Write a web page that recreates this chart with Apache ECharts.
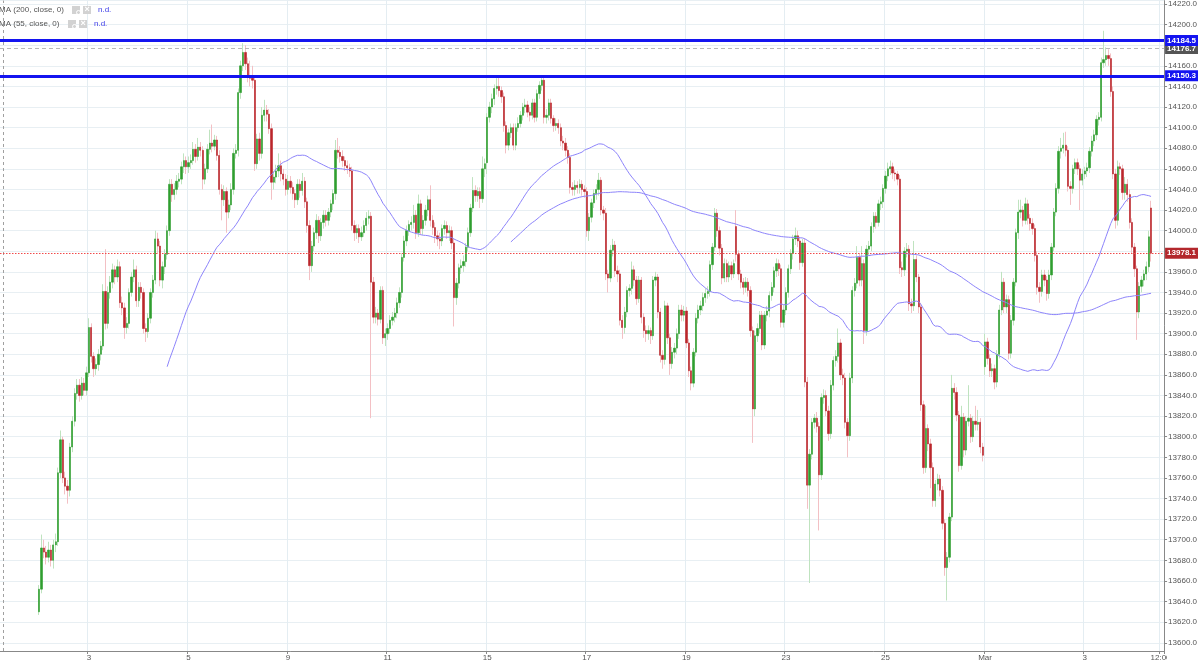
<!DOCTYPE html>
<html><head><meta charset="utf-8">
<script src="https://cdn.jsdelivr.net/npm/echarts/dist/echarts.min.js"></script>
<style>html,body{margin:0;padding:0;background:#fff}#c{width:1200px;height:662px}</style>
</head><body><div id="c"></div><script>
// ---- data ----
const dayNames = ['Feb 2','Feb 3','Feb 4','Feb 5','Feb 8','Feb 9','Feb 10','Feb 11','Feb 12','Feb 15','Feb 16','Feb 17','Feb 18','Feb 19','Feb 22','Feb 23','Feb 24','Feb 25','Feb 26','Mar 1','Mar 2','Mar 3','Mar 4'];
const tickCats = ['Feb 3 01:00','Feb 5 01:00','Feb 9 01:00','Feb 11 01:00','Feb 15 01:00','Feb 17 01:00','Feb 19 01:00','Feb 23 01:00','Feb 25 01:00','Mar 1 01:00','Mar 3 01:00','Mar 4 12:00'];
const tickTexts = ['3','5','9','11','15','17','19','23','25','Mar','3','12:00'];
const yTicks = {min: 13592, max: 14223.3};
// [open, close, low, high], hourly
const candles = [
[13630,13652,13627,13656],[13652,13692,13648,13705],[13692,13688,13682,13700],[13688,13683,13676,13694],[13683,13690,13678,13698],[13690,13680,13674,13695],[13680,13695,13672,13700],[13695,13698,13688,13706],[13698,13765,13694,13770],[13765,13797,13760,13806],[13797,13760,13755,13800],[13760,13752,13744,13766],[13752,13748,13735,13758],[13748,13790,13742,13794],[13790,13815,13785,13820],[13815,13842,13810,13847],[13842,13850,13836,13856],[13850,13840,13834,13856],[13840,13852,13836,13858],[13852,13845,13840,13857],[13845,13862,13840,13868],
[13862,13906,13858,13915],[13906,13878,13872,13910],[13878,13866,13858,13882],[13866,13870,13860,13876],[13870,13880,13864,13885],[13880,13888,13874,13893],[13888,13941,13884,13948],[13941,13910,13904,13982],[13910,13940,13905,13946],[13940,13950,13934,13956],[13950,13962,13944,13968],[13962,13955,13948,13966],[13955,13965,13950,13972],[13965,13930,13925,13970],[13930,13925,13918,13936],[13925,13906,13895,13930],[13906,13910,13900,13916],[13910,13940,13905,13944],[13940,13955,13936,13960],[13955,13962,13950,13972],[13962,13932,13926,13966],
[13932,13945,13926,13950],[13945,13940,13934,13950],[13940,13905,13900,13944],[13905,13902,13892,13910],[13902,13915,13896,13920],[13915,13940,13910,13944],[13940,13952,13935,13957],[13952,13992,13948,14000],[13992,13985,13978,13998],[13985,13952,13946,13990],[13952,13965,13944,13970],[13965,13977,13958,13982],[13977,14000,13972,14005],[14000,14045,13995,14050],[14045,14035,14028,14050],[14035,14040,14030,14046],[14040,14048,14035,14054],[14048,14050,14042,14056],[14050,14062,14045,14067],[14062,14068,14056,14075],[14068,14062,14055,14072],
[14062,14066,14056,14072],[14066,14068,14060,14074],[14068,14079,14064,14086],[14079,14072,14066,14084],[14072,14081,14068,14090],[14081,14078,14072,14086],[14078,14050,14040,14082],[14050,14060,14045,14065],[14060,14079,14056,14084],[14079,14085,14074,14098],[14085,14082,14076,14103],[14082,14088,14078,14093],[14088,14073,14068,14092],[14073,14040,14035,14078],[14040,14030,14010,14045],[14030,14038,14024,14044],[14038,14018,13998,14042],[14018,14025,14012,14030],[14025,14040,14020,14046],[14040,14075,14035,14080],[14075,14078,14070,14084],
[14078,14134,14072,14138],[14134,14160,14128,14165],[14160,14173,14155,14182],[14173,14162,14156,14180],[14162,14150,14144,14168],[14150,14148,14140,14165],[14148,14146,14138,14160],[14146,14065,14058,14150],[14065,14089,14060,14094],[14089,14075,14068,14095],[14075,14112,14070,14120],[14112,14117,14106,14127],[14117,14113,14106,14122],[14113,14099,14094,14118],[14099,14047,14030,14104],[14047,14052,14040,14058],[14052,14058,14046,14064],[14058,14063,14052,14075],[14063,14055,14048,14068],[14055,14050,14044,14060],[14050,14040,14034,14055],
[14040,14048,14035,14054],[14048,14042,14036,14053],[14042,14036,14030,14047],[14036,14030,14022,14040],[14030,14045,14025,14050],[14045,14039,14032,14050],[14039,14048,14034,14056],[14048,14028,14022,14052],[14028,14005,13998,14032],[14005,13966,13952,14010],[13966,13985,13960,13990],[13985,13998,13980,14003],[13998,14010,13992,14016],[14010,13995,13988,14014],[13995,14008,13990,14012],[14008,14015,14002,14020],[14015,14010,14004,14020],[14010,14018,14005,14022],[14018,14026,14013,14030],[14026,14036,14020,14040],[14036,14078,14030,14088],
[14078,14076,14070,14090],[14076,14072,14066,14082],[14072,14068,14062,14078],[14068,14063,14058,14072],[14063,14061,14055,14068],[14061,14058,14052,14065],[14058,14005,14000,14062],[14005,13998,13990,14010],[13998,14002,13992,14006],[14002,13994,13988,14006],[13994,13998,13990,14004],[13998,14005,13994,14010],[14005,14012,14000,14018],[14012,14014,14006,14020],[14014,13950,13818,14018],[13950,13916,13910,13955],[13916,13920,13910,13926],[13920,13914,13908,13924],[13914,13942,13910,13946],[13942,13896,13890,13946],[13896,13900,13888,13905],
[13900,13905,13894,13910],[13905,13913,13900,13918],[13913,13916,13908,13921],[13916,13920,13911,13925],[13920,13930,13915,13935],[13930,13940,13925,13945],[13940,13974,13935,13978],[13974,13990,13970,13995],[13990,14000,13985,14005],[14000,14006,13995,14010],[14006,14008,14000,14014],[14008,14015,14002,14025],[14015,13998,13992,14020],[13998,14026,13994,14035],[14026,14002,13996,14030],[14002,14010,13996,14015],[14010,14020,14005,14025],[14020,14030,14014,14034],[14030,14010,14004,14044],[14010,14003,13996,14015],[14003,13995,13988,14008],
[13995,13992,13985,14000],[13992,13990,13982,13998],[13990,14002,13985,14006],[14002,14005,13996,14010],[14005,13998,13992,14009],[13998,14000,13990,14005],[14000,13988,13982,14004],[13988,13935,13907,13992],[13935,13949,13928,13954],[13949,13964,13944,13968],[13964,13966,13958,13972],[13966,13970,13960,13976],[13970,13984,13965,13988],[13984,13998,13980,14003],[13998,14022,13994,14026],[14022,14039,14018,14052],[14039,14034,14028,14044],[14034,14038,14028,14042],[14038,14031,14022,14042],[14031,14060,14027,14072],[14060,14065,14052,14070],
[14066,14110,14055,14114],[14110,14120,14105,14125],[14120,14128,14114,14133],[14128,14138,14122,14142],[14138,14140,14132,14148],[14140,14136,14130,14150],[14136,14130,14124,14140],[14130,14102,14096,14134],[14102,14083,14075,14106],[14083,14095,14078,14099],[14095,14100,14090,14104],[14100,14083,14078,14104],[14083,14100,14078,14104],[14100,14104,14096,14110],[14104,14112,14100,14116],[14112,14120,14107,14124],[14120,14122,14114,14128],[14122,14115,14110,14126],[14115,14112,14106,14120],[14112,14124,14108,14128],[14124,14110,14105,14128],
[14110,14133,14106,14137],[14133,14141,14128,14145],[14141,14146,14136,14150],[14146,14110,14104,14150],[14110,14112,14104,14118],[14112,14124,14107,14128],[14124,14109,14104,14128],[14109,14102,14096,14112],[14102,14104,14097,14109],[14104,14100,14094,14108],[14100,14087,14082,14104],[14087,14085,14078,14092],[14085,14078,14072,14090],[14078,14071,14065,14082],[14071,14042,14036,14075],[14042,14040,14034,14047],[14040,14044,14034,14049],[14044,14042,14036,14048],[14042,14045,14036,14050],[14045,14040,14034,14049],[14040,14038,14032,14044],
[14038,14000,13994,14042],[14000,14013,13990,14017],[14013,14027,14008,14031],[14027,14036,14022,14040],[14036,14040,14030,14045],[14040,14049,14034,14056],[14049,14020,14015,14052],[14020,14017,14010,14024],[14017,13958,13952,14022],[13958,13954,13940,13962],[13954,13981,13950,13986],[13981,13986,13975,13992],[13986,13961,13955,13990],[13961,13958,13950,13966],[13958,13913,13908,13962],[13913,13906,13895,13918],[13906,13921,13900,13926],[13921,13942,13916,13946],[13942,13944,13936,13948],[13944,13962,13938,13970],[13962,13952,13946,13966],
[13952,13934,13928,13956],[13934,13952,13930,13956],[13952,13916,13910,13955],[13916,13903,13896,13920],[13903,13900,13892,13908],[13900,13903,13894,13908],[13903,13898,13890,13906],[13898,13952,13894,13956],[13952,13955,13946,13960],[13955,13921,13915,13958],[13921,13879,13872,13925],[13879,13875,13866,13884],[13875,13927,13870,13932],[13927,13896,13890,13930],[13896,13871,13860,13900],[13871,13882,13866,13887],[13882,13886,13876,13891],[13886,13900,13880,13905],[13900,13923,13895,13928],[13923,13918,13912,13928],[13918,13922,13912,13927],
[13922,13891,13886,13926],[13891,13864,13858,13895],[13864,13852,13845,13868],[13852,13882,13848,13886],[13882,13915,13878,13920],[13915,13923,13910,13928],[13923,13927,13918,13932],[13927,13935,13922,13940],[13935,13939,13930,13944],[13939,13941,13934,13946],[13941,13967,13936,13971],[13967,13984,13962,13988],[13984,14017,13980,14022],[14017,14000,13994,14021],[14000,13983,13976,14004],[13983,13954,13948,13987],[13954,13968,13950,13973],[13968,13955,13950,13972],[13955,13966,13950,13970],[13966,13958,13952,13970],[13958,13968,13954,13972],
[14004,13977,13970,14020],[13977,13958,13952,13981],[13958,13950,13944,13962],[13950,13945,13938,13954],[13945,13950,13940,13955],[13950,13942,13936,13954],[13942,13903,13897,13946],[13903,13827,13794,13907],[13827,13898,13820,13903],[13898,13905,13892,13910],[13905,13918,13900,13922],[13918,13889,13884,13922],[13889,13918,13885,13922],[13918,13922,13912,13927],[13922,13937,13916,13941],[13937,13945,13932,13950],[13945,13961,13940,13965],[13961,13968,13955,13973],[13968,13963,13956,13972],[13963,13911,13906,13967],[13911,13923,13906,13928],
[13923,13940,13918,13945],[13940,13963,13935,13967],[13963,13978,13958,13982],[13978,13992,13972,13996],[13992,13995,13986,14003],[13995,13990,13984,14000],[13990,13969,13962,13994],[13969,13988,13965,13992],[13988,13853,13848,13992],[13853,13753,13730,13858],[13753,13783,13658,13788],[13783,13814,13778,13818],[13814,13818,13808,13822],[13818,13810,13804,13824],[13810,13763,13709,13814],[13763,13838,13758,13842],[13838,13840,13832,13846],[13840,13825,13820,13845],[13825,13803,13796,13830],[13803,13850,13798,13855],[13850,13874,13845,13878],
[13874,13878,13868,13884],[13878,13891,13872,13905],[13891,13860,13855,13895],[13860,13857,13850,13866],[13857,13814,13808,13862],[13814,13801,13780,13818],[13801,13857,13796,13862],[13857,13942,13852,13946],[13942,13949,13936,13954],[13949,13974,13944,13985],[13974,13952,13946,13978],[13952,13968,13946,13985],[13968,13903,13890,13972],[13903,13982,13898,13986],[13982,13985,13976,13990],[13985,14004,13980,14008],[14004,14014,13998,14018],[14014,14008,14002,14018],[14008,14026,14004,14030],[14026,14028,14020,14033],[14028,14041,14022,14045],
[14041,14053,14036,14058],[14053,14060,14048,14066],[14060,14062,14054,14068],[14062,14056,14050,14066],[14056,14055,14048,14060],[14055,14050,14044,14058],[14050,13964,13958,14054],[13964,13962,13955,13970],[13962,13980,13956,13984],[13980,13982,13974,13988],[13982,13929,13922,13986],[13929,13927,13920,13934],[13927,13972,13922,13990],[13972,13955,13950,13976],[13955,13926,13920,13958],[13926,13831,13825,13930],[13831,13770,13764,13835],[13770,13808,13765,13830],[13808,13793,13786,13812],[13793,13770,13750,13798],[13770,13738,13732,13775],
[13738,13754,13732,13758],[13754,13759,13748,13764],[13759,13748,13742,13763],[13748,13716,13710,13752],[13716,13673,13665,13720],[13673,13683,13641,13688],[13683,13722,13678,13726],[13722,13847,13718,13860],[13847,13843,13836,13852],[13843,13821,13815,13848],[13821,13772,13766,13825],[13772,13819,13768,13830],[13819,13787,13780,13823],[13787,13815,13782,13820],[13815,13818,13810,13850],[13818,13800,13794,13822],[13800,13815,13795,13820],[13815,13812,13806,13830],[13812,13814,13806,13826],[13814,13790,13784,13818],[13790,13782,13776,13794],
[13868,13892,13860,13900],[13892,13876,13870,13896],[13876,13864,13858,13880],[13864,13866,13858,13871],[13866,13853,13846,13870],[13853,13880,13848,13884],[13880,13923,13876,13928],[13923,13950,13918,13960],[13950,13926,13920,13954],[13926,13933,13920,13938],[13933,13881,13875,13937],[13881,13913,13876,13918],[13913,13950,13908,13954],[13950,13998,13946,14002],[13998,14018,13992,14030],[14018,14020,14012,14030],[14020,14010,14004,14024],[14010,14026,14006,14032],[14026,14012,14006,14030],[14012,14007,14000,14016],[14007,14002,13996,14012],
[14002,13976,13970,14006],[13976,13945,13938,13980],[13945,13941,13930,13950],[13941,13957,13936,13962],[13957,13952,13946,13962],[13952,13939,13932,13956],[13939,13957,13934,13962],[13957,13984,13952,13988],[13984,14018,13980,14022],[14018,14041,14014,14046],[14041,14077,14036,14082],[14077,14080,14070,14090],[14080,14083,14075,14095],[14083,14078,14072,14096],[14078,14043,14038,14082],[14043,14041,14025,14048],[14041,14060,14036,14064],[14060,14066,14055,14070],[14066,14060,14054,14070],[14060,14049,14020,14064],[14049,14055,14044,14060],
[14055,14058,14050,14062],[14058,14061,14052,14066],[14061,14077,14056,14081],[14077,14087,14072,14092],[14087,14093,14082,14098],[14093,14108,14088,14112],[14108,14110,14102,14115],[14110,14163,14106,14168],[14163,14166,14158,14194],[14166,14170,14160,14178],[14170,14167,14160,14176],[14167,14135,14130,14172],[14135,14055,14050,14140],[14055,14010,14002,14060],[14010,14062,14005,14068],[14062,14060,14054,14066],[14060,14037,14030,14064],[14037,14045,14030,14052],[14045,14035,14028,14050],[14035,14008,14002,14040],[14008,13984,13978,14012],
[13984,13963,13955,13988],[13963,13921,13894,13966],[13921,13946,13915,13950],[13946,13952,13940,13956],[13952,13958,13946,13962],[13958,13965,13952,13970],[13965,13994,13960,14000],[14022,13978.1,13970,14029]
];
const levels = [14184.5, 14150.3];
const lastHigh = 14176.7;
const lastPrice = 13978.1;
const maPeriods = [200, 55];

// ---- build ----
const LEAD = 16;
const categories = [];
for (let k = 0; k < LEAD; k++) categories.push('pre' + k);
dayNames.forEach((d, di) => {
  const n = di === dayNames.length - 1 ? 13 : 21;
  for (let h = 1; h <= n; h++) categories.push(d + ' ' + String(h).padStart(2, '0') + ':00');
});
const tickSet = new Set(tickCats);
const tickText = {}; tickCats.forEach((c, i) => tickText[c] = tickTexts[i]);
const isTick = (idx, val) => tickSet.has(val);

const closes = candles.map(r => r[1]);
function movingAvg(n) {
  const out = [];
  for (let i = n - 1; i < closes.length; i++) {
    let s = 0; for (let k = i - n + 1; k <= i; k++) s += closes[k];
    out.push([LEAD + i, s / n]);
  }
  return out;
}
const wickData = candles.map((r, i) => [LEAD + i, r[0], r[1], r[2], r[3]]);
const bodyData = candles.map((r, i) => [LEAD + i, r[0], r[1], Math.min(r[0], r[1]), Math.max(r[0], r[1])]);

const FONT = '"Liberation Sans", Arial, sans-serif';
const tag = (txt, bg) => ({show: true, position: 'end', distance: 1, formatter: txt, backgroundColor: bg, color: '#fff',
  fontSize: 8, fontWeight: 'bold', fontFamily: FONT, padding: [2, 2, 1, 2], borderRadius: 0});

const chart = echarts.init(document.getElementById('c'), null, {renderer: 'canvas'});
chart.setOption({
  animation: false,
  backgroundColor: '#fff',
  textStyle: {fontFamily: FONT},
  grid: {left: 0, right: 34, top: 0, bottom: 11, containLabel: false},
  xAxis: {
    type: 'category', data: categories, boundaryGap: true,
    axisLine: {show: true, lineStyle: {color: '#888', width: 1}},
    axisTick: {show: true, interval: isTick, length: 3, lineStyle: {color: '#888'}},
    axisLabel: {interval: isTick, formatter: v => tickText[v] || '', fontSize: 8, color: '#555', margin: 3, fontFamily: FONT},
    splitLine: {show: true, interval: isTick, lineStyle: {color: '#e4edf2', width: 1}}
  },
  yAxis: {
    type: 'value', position: 'right', min: yTicks.min, max: yTicks.max, scale: true,
    splitNumber: 31, minInterval: 20, maxInterval: 20,
    axisLine: {show: true, lineStyle: {color: '#888'}},
    axisTick: {show: true, length: 3, lineStyle: {color: '#888'}},
    axisLabel: {formatter: v => v.toFixed(1), fontSize: 8, color: '#555', margin: 4, showMinLabel: false, showMaxLabel: false, fontFamily: FONT},
    splitLine: {show: true, lineStyle: {color: '#e8eff3', width: 1}}
  },
  series: [
    {type: 'candlestick', name: 'wick', data: wickData, encode: {x: 0, y: [1, 2, 3, 4]}, barWidth: 0.4, z: 2,
      itemStyle: {color: '#bfe3bf', color0: '#f3c0c4', borderColor: '#bfe3bf', borderColor0: '#f3c0c4', borderWidth: 1}},
    {type: 'candlestick', name: 'body', data: bodyData, encode: {x: 0, y: [1, 2, 3, 4]}, barWidth: 1.8, z: 3,
      itemStyle: {color: '#2f9e2f', color0: '#bb262b', borderColor: '#2f9e2f', borderColor0: '#bb262b', borderWidth: 0.6}},
    {type: 'line', name: 'MA (200, close, 0)', data: movingAvg(maPeriods[0]), showSymbol: false, smooth: false, z: 4,
      lineStyle: {color: '#8d84fb', width: 1}},
    {type: 'line', name: 'MA (55, close, 0)', data: movingAvg(maPeriods[1]), showSymbol: false, smooth: false, z: 4,
      lineStyle: {color: '#8d84fb', width: 1}},
    {type: 'line', name: 'levels', data: [], z: 6,
      markLine: {symbol: ['none', 'none'], silent: true, animation: false,
        data: [
          {xAxis: 'pre1', lineStyle: {color: '#a0a0a0', type: [3, 3], width: 1}, label: {show: false}},
          {yAxis: lastHigh, lineStyle: {color: '#b8b8b8', type: [4, 3], width: 1}, label: tag(lastHigh.toFixed(1), '#555555')},
          {yAxis: lastPrice, lineStyle: {color: '#f04a4a', type: [1.5, 1.5], width: 1}, label: tag(lastPrice.toFixed(1), '#b3272c')},
          {yAxis: levels[0], lineStyle: {color: '#1414f0', type: 'solid', width: 3}, label: tag(levels[0].toFixed(1), '#1414f0')},
          {yAxis: levels[1], lineStyle: {color: '#1414f0', type: 'solid', width: 3}, label: tag(levels[1].toFixed(1), '#1414f0')}
        ]}}
  ],
  graphic: [
    {type: 'text', left: -1, top: 6, z: 50, style: {text: 'MA (200, close, 0)', font: '8px ' + FONT, fill: '#555'}},
    {type: 'rect', left: 72, top: 6, z: 50, shape: {width: 8, height: 8}, style: {fill: '#d2d2d2'}},
    {type: 'circle', left: 74, top: 8, z: 51, shape: {r: 2}, style: {fill: 'none', stroke: '#fff', lineWidth: 1}},
    {type: 'rect', left: 83, top: 6, z: 50, shape: {width: 8, height: 8}, style: {fill: '#d2d2d2'}},
    {type: 'text', left: 84.5, top: 5.5, z: 51, style: {text: '×', font: 'bold 9px ' + FONT, fill: '#fff'}},
    {type: 'text', left: 98, top: 6, z: 50, style: {text: 'n.d.', font: '8px ' + FONT, fill: '#3a3ae8'}},
    {type: 'text', left: -1, top: 20, z: 50, style: {text: 'MA (55, close, 0)', font: '8px ' + FONT, fill: '#555'}},
    {type: 'rect', left: 68, top: 20, z: 50, shape: {width: 8, height: 8}, style: {fill: '#d2d2d2'}},
    {type: 'circle', left: 70, top: 22, z: 51, shape: {r: 2}, style: {fill: 'none', stroke: '#fff', lineWidth: 1}},
    {type: 'rect', left: 79, top: 20, z: 50, shape: {width: 8, height: 8}, style: {fill: '#d2d2d2'}},
    {type: 'text', left: 80.5, top: 19.5, z: 51, style: {text: '×', font: 'bold 9px ' + FONT, fill: '#fff'}},
    {type: 'text', left: 94, top: 20, z: 50, style: {text: 'n.d.', font: '8px ' + FONT, fill: '#3a3ae8'}},
    {type: 'rect', left: 1167, top: 652, z: 100, shape: {width: 33, height: 10}, style: {fill: '#fff'}}
  ]
});
</script></body></html>
